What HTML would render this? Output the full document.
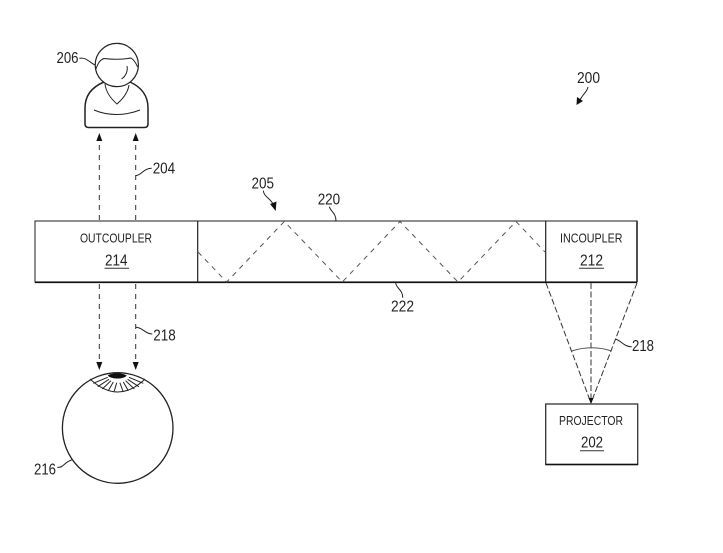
<!DOCTYPE html>
<html><head><meta charset="utf-8"><style>
html,body{margin:0;padding:0;background:#fff;width:723px;height:553px;overflow:hidden}
svg{display:block}
text{font-family:"Liberation Sans",sans-serif;fill:#222;}
.n{font-size:15.500px}
.u{font-size:16px}
.c{font-size:12.800px}
.l{fill:none;stroke:#222;stroke-width:1}
.d{fill:none;stroke:#333;stroke-width:1;stroke-dasharray:5 5}
.t{fill:none;stroke:#555;stroke-width:1;stroke-dasharray:5 5}
.a{fill:#111;stroke:none}
</style></head><body>
<svg width="723" height="553" viewBox="0 0 723 553" xmlns="http://www.w3.org/2000/svg">
<!-- person -->
<circle cx="116.800" cy="65" r="21.600" fill="none" stroke="#222" stroke-width="1.200"/>
<path class="l" d="M96 69 C98 63 100 60 104 58.500 C112 59.500 122 59.500 131 58 C134 60 136 63 137.500 67" stroke-width="1.100"/>
<path class="l" d="M127 66 C128 71 126 76 121.500 79"/>
<path d="M104 82 C92 87 85 95 85 108 L85 124 Q85 127.500 89 127.500 L144 127.500 Q148 127.500 148 124 L148 108 C148 95 141 87 130 82" fill="none" stroke="#222" stroke-width="1.500"/>
<path class="l" d="M105 84 C106 92 110 98 117 104 C124 98 128 92 129 85"/>
<path class="l" d="M94 110 C108 116 125 116 140 110"/>
<text class="n" x="56.500" y="63" textLength="22" lengthAdjust="spacingAndGlyphs">206</text>
<path class="l" d="M79.300 58.300 C86 57 89 62 95 65"/>
<text class="n" x="577" y="83" textLength="23" lengthAdjust="spacingAndGlyphs">200</text>
<path class="l" d="M588 87 C587 92 583 94 580 100"/>
<path class="a" d="M576.500 105 L577 97 L583 101 Z"/>
<!-- vertical arrows upper -->
<path class="d" d="M99.300 220 V140"/>
<path class="d" d="M135.700 220 V140"/>
<path class="a" d="M99.300 133 L96.300 141 L102.300 141 Z"/>
<path class="a" d="M135.700 133 L132.700 141 L138.700 141 Z"/>
<text class="n" x="152.700" y="173.500" textLength="22.500" lengthAdjust="spacingAndGlyphs">204</text>
<path class="l" d="M135.700 175.700 C142 175 143 168.500 151.700 168.300"/>
<!-- main box -->
<rect x="35" y="221" width="602" height="61" fill="none" stroke="#444" stroke-width="1.200"/>
<path d="M35 282.300 H637" stroke="#111" stroke-width="1.600"/>
<path d="M197.700 221 V282 M545.700 221 V282" stroke="#222" stroke-width="1.200"/>
<path d="M637 221 V282" stroke="#222" stroke-width="1.500"/>
<!-- zigzag -->
<path class="t" d="M198 252 L226.700 282 L284.300 221.500 L342.300 282 L400 221.500 L458 282 L516 221.500 L545 252"/>
<!-- box text -->
<text class="c" x="80" y="242.700" textLength="72" lengthAdjust="spacingAndGlyphs">OUTCOUPLER</text>
<text class="u" x="105" y="265.700" textLength="22.500" lengthAdjust="spacingAndGlyphs">214</text>
<path d="M104.500 268.300 H129" stroke="#333" stroke-width="1"/>
<text class="c" x="560" y="242.700" textLength="62.500" lengthAdjust="spacingAndGlyphs">INCOUPLER</text>
<text class="u" x="580" y="265.700" textLength="23" lengthAdjust="spacingAndGlyphs">212</text>
<path d="M579 268.300 H604" stroke="#333" stroke-width="1"/>
<!-- 205/220/222 labels -->
<text class="n" x="251.500" y="188.300" textLength="22.500" lengthAdjust="spacingAndGlyphs">205</text>
<path class="l" d="M263.300 190.700 C264 197 270 198 273 204"/>
<path class="a" d="M275.700 211 L270 204 L276.500 201.500 Z"/>
<text class="n" x="317.700" y="204.300" textLength="22.500" lengthAdjust="spacingAndGlyphs">220</text>
<path class="l" d="M329.300 206.700 C331 212 336 213 336 221"/>
<text class="n" x="391" y="311.700" textLength="23" lengthAdjust="spacingAndGlyphs">222</text>
<path class="l" d="M395.700 283 C396 288 403 290 402.700 297.700"/>
<!-- lower arrows -->
<path class="d" d="M99.300 284 V362"/>
<path class="d" d="M135.700 284 V362"/>
<path class="a" d="M99.300 370 L96.300 362 L102.300 362 Z"/>
<path class="a" d="M135.700 370 L132.700 362 L138.700 362 Z"/>
<text class="n" x="153.300" y="340.700" textLength="22.500" lengthAdjust="spacingAndGlyphs">218</text>
<path class="l" d="M135.700 327.300 C143 327.500 145 334 152.300 334"/>
<!-- eye -->
<circle cx="117.700" cy="428" r="55.300" fill="none" stroke="#222" stroke-width="1.300"/>
<path class="l" d="M90 379 Q118 405 145 379"/>
<path class="a" d="M107.700 375.500 C112 372.500 122 372.500 126.700 375.500 C124 379.500 111 379.500 107.700 375.500 Z"/>
<path class="l" stroke-width="0.800" d="M93.300 383.300 L107.700 377.300 M97.700 386.700 L109 379.300 M102.300 389 L111 380.700 M108.300 390.700 L113.300 382 M114.300 391 L116.700 382.700 M122.900 391 L119.900 382.700 M128.300 390.700 L123.300 382 M134.300 389 L125.600 380.700 M138.900 386.700 L127.600 379.300 M143.300 383.300 L128.900 377.300"/>
<text class="n" x="34" y="474.300" textLength="22" lengthAdjust="spacingAndGlyphs">216</text>
<path class="l" d="M57.300 467.300 C64 468 64 462 71.700 460"/>
<!-- projector beam -->
<path class="d" d="M546 283 L591 403" style="stroke-dasharray:6 2.500"/>
<path class="d" d="M637 283 L591 403" style="stroke-dasharray:6 2.500"/>
<path class="d" d="M591 283 V400" style="stroke-dasharray:6 2.500"/>
<path class="a" d="M591 404 L588.500 398 L593.500 398 Z"/>
<path d="M571.700 351 Q591.700 344.500 611.700 351" fill="none" stroke="#555" stroke-width="1"/>
<text class="n" x="632" y="351" textLength="22" lengthAdjust="spacingAndGlyphs">218</text>
<path class="l" d="M615 339 C621 340 624 347 631.700 346.700"/>
<!-- projector box -->
<rect x="545.700" y="404" width="92" height="60.500" fill="none" stroke="#333" stroke-width="1.300"/>
<path d="M545.700 464.500 H637.700" stroke="#111" stroke-width="1.500"/>
<text class="c" x="559" y="425" textLength="64" lengthAdjust="spacingAndGlyphs">PROJECTOR</text>
<text class="u" x="581" y="447.700" textLength="22" lengthAdjust="spacingAndGlyphs">202</text>
<path d="M580 450.700 H604" stroke="#333" stroke-width="1"/>
</svg>
</body></html>
